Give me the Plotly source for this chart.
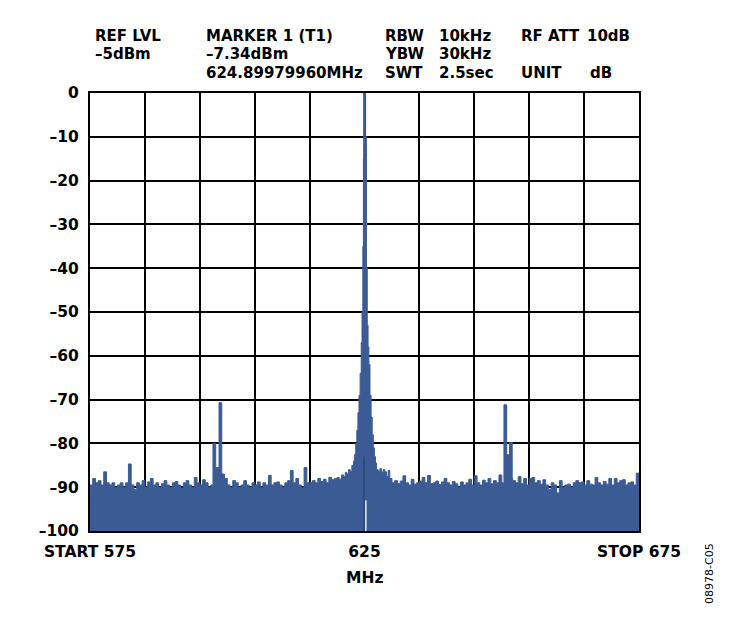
import numpy as np
import plotly.graph_objects as go

# ---------------- data ----------------
# sweep grid (0.5 MHz steps, START 575 .. STOP 675)
f_start, f_stop = 575.0, 675.0
base_levels = [
    # 575.0 - 584.5
    -89.5, -88.0, -89.0, -88.5, -89.5, -86.5, -89.0, -89.5, -89.0, -90.0,
    -89.5, -89.0, -90.0, -89.0, -84.7, -89.5, -90.5, -89.0, -89.5, -88.5,
    # 585.0 - 594.5
    -90.0, -88.8, -88.0, -89.5, -89.0, -90.0, -89.2, -88.5, -89.5, -90.0,
    -89.0, -88.7, -89.5, -90.2, -89.0, -88.5, -89.5, -90.0, -87.8, -89.0,
    # 595.0 - 604.5
    -89.5, -88.3, -89.0, -90.0, -89.5, -89.0, -89.0, -89.0, -89.0, -88.0,
    -89.5, -90.0, -88.5, -89.0, -90.0, -89.5, -88.5, -89.5, -90.0, -89.0,
    # 605.0 - 614.5
    -89.5, -88.8, -90.0, -89.0, -89.5, -87.3, -89.5, -89.0, -88.8, -89.5,
    -90.0, -89.0, -88.5, -86.2, -89.0, -88.0, -89.5, -90.0, -85.5, -89.0,
    # 615.0 - 624.5
    -89.0, -88.5, -89.0, -88.0, -88.7, -88.2, -89.0, -87.8, -88.3, -88.0,
    -88.0, -87.5, -87.0, -86.5, -86.0, -85.0, -84.0, -80.0, -70.0, -50.0,
    # 625.0 - 634.5
    -10.0, -55.0, -75.0, -84.0, -86.0, -86.5, -86.0, -86.5, -87.0, -88.0,
    -89.0, -88.5, -89.2, -88.6, -87.4, -89.0, -89.5, -88.2, -89.3, -89.0,
    # 635.0 - 644.5
    -88.6, -87.8, -89.0, -87.3, -89.2, -89.0, -88.6, -89.4, -88.8, -88.0,
    -89.0, -89.5, -88.7, -89.2, -90.0, -88.8, -89.5, -89.0, -88.2, -89.5,
    # 645.0 - 654.5
    -87.4, -89.0, -89.5, -88.4, -89.0, -88.0, -89.2, -88.5, -89.0, -87.2,
    -89.0, -89.0, -89.0, -89.0, -88.5, -89.0, -87.6, -89.2, -88.0, -89.5,
    # 655.0 - 664.5
    -88.0, -87.8, -89.0, -88.5, -89.3, -88.3, -89.5, -90.5, -89.0, -89.5,
    -91.3, -88.5, -90.0, -89.5, -89.3, -90.0, -89.0, -88.5, -89.0, -88.8,
    # 665.0 - 674.5
    -89.5, -88.5, -89.3, -89.5, -87.8, -89.0, -89.5, -88.7, -89.3, -88.0,
    -89.5, -88.0, -89.0, -88.5, -88.3, -89.5, -89.0, -88.8, -89.5, -86.8,
    # 675.0
    -89.0,
]

# carrier region (finer detail)
carrier_freq = [620.0, 620.4, 620.8, 621.2, 621.5, 621.8, 622.1, 622.4, 622.7, 623.0,
                623.2, 623.4, 623.6, 623.8, 624.0, 624.2, 624.4, 624.55, 624.7, 624.8,
                624.85, 625.2, 625.35, 625.5, 625.65, 625.8, 626.0, 626.2, 626.4, 626.6,
                626.8, 627.0, 627.2, 627.5, 627.8, 628.1, 628.4, 628.7, 629.0, 629.3,
                629.6]
carrier_level = [-87.8, -88.2, -87.2, -87.6, -86.6, -87.0, -86.0, -86.4, -85.0, -84.0,
                 -82.5, -80.0, -77.0, -73.0, -69.0, -64.0, -57.0, -50.0, -35.0, -15.0,
                 0.0, -10.0, -40.0, -53.0, -58.0, -62.0, -69.0, -74.0, -78.0, -81.0,
                 -83.0, -84.5, -86.0, -86.4, -85.8, -86.6, -86.0, -86.5, -87.5, -86.2,
                 -88.0]

# spurs
spur_left_freq = [597.4, 597.9, 598.5, 599.0]
spur_left_level = [-80.0, -85.5, -70.7, -87.0]
spur_right_freq = [650.4, 650.9, 651.4, 651.9]
spur_right_level = [-71.2, -82.6, -79.8, -88.0]

# marker line and display gap
marker_freq = 624.9
marker_level_top = -83.0
gap_freq = 625.25
gap_level_top = -93.0

# axis ticks
y_tickvals = [0, -10, -20, -30, -40, -50, -60, -70, -80, -90, -100]
y_ticktext = ["0", "–10", "–20", "–30", "–40", "–50", "–60", "–70", "–80", "–90", "–100"]
x_tickvals = [575, 585, 595, 605, 615, 625, 635, 645, 655, 665, 675]
x_ticktext = ["START 575", "", "", "", "", "625", "", "", "", "", "STOP 675"]

# ---------------- assemble trace ----------------
base_freq = np.linspace(f_start, f_stop, len(base_levels))
pts = dict(zip(np.round(base_freq, 3), base_levels))
for fr, lv in [(carrier_freq, carrier_level), (spur_left_freq, spur_left_level),
               (spur_right_freq, spur_right_level)]:
    lo, hi = min(fr), max(fr)
    for k in list(pts.keys()):
        if lo - 1e-9 <= k <= hi + 1e-9:
            del pts[k]
    for a, b in zip(fr, lv):
        pts[round(a, 3)] = b
xs = sorted(pts.keys())
ys = [pts[k] for k in xs]

BLUE = "#3B5B95"
FONT = "DejaVu Sans, Verdana, sans-serif"
FS = 15.5
HFS = 15

fig = go.Figure()
fig.add_trace(go.Scatter(x=[f_start, f_stop], y=[-100, -100], mode="lines",
                         line=dict(width=0, color=BLUE), showlegend=False, hoverinfo="skip"))
fig.add_trace(go.Scatter(x=xs, y=ys, mode="lines", line=dict(color=BLUE, width=1, shape="hv"),
                         fill="tonexty", fillcolor=BLUE, showlegend=False))
fig.add_trace(go.Scatter(x=[marker_freq, marker_freq], y=[-100, marker_level_top], mode="lines",
                         line=dict(color="#243a5e", width=1), showlegend=False))
fig.add_trace(go.Scatter(x=[gap_freq, gap_freq], y=[-100, gap_level_top], mode="lines",
                         line=dict(color="white", width=1.3), showlegend=False))

OFF = 8  # page body margin
W, H = 735, 622
PL, PR, PT, PB = 90, 639, 93, 531   # plot area in screen pixels
L = PL - OFF
R = W - (PR - OFF)
T = PT - OFF
B = H - (PB - OFF)
pw, ph = PR - PL, PB - PT


def px_x(p):
    return (p - PL) / pw


def px_y(p):
    return (PB - p) / ph


Y1, Y2, Y3 = 36, 54.5, 72.5
header = [
    ("REF LVL", 93, Y1), ("–5dBm", 93, Y2),
    ("MARKER 1 (T1)", 204, Y1), ("–7.34dBm", 204, Y2), ("624.89979960MHz", 204, Y3),
    ("RBW", 383, Y1), ("10kHz", 437, Y1),
    ("YBW", 383, Y2), ("30kHz", 437, Y2),
    ("SWT", 383, Y3), ("2.5sec", 437, Y3),
    ("RF ATT", 519, Y1), ("10dB", 585, Y1),
    ("UNIT", 519, Y3), ("dB", 588, Y3),
]
annotations = []
for txt, x, y in header:
    annotations.append(dict(text=txt, x=px_x(x), y=px_y(y), xref="paper", yref="paper",
                            xanchor="left", yanchor="middle", showarrow=False,
                            font=dict(size=HFS, color="black", family=FONT, weight="bold")))
annotations.append(dict(text="MHz", x=px_x(364.5), y=px_y(578), xref="paper", yref="paper",
                        xanchor="center", yanchor="middle", showarrow=False,
                        font=dict(size=FS, color="black", family=FONT, weight="bold")))
annotations.append(dict(text="08978-C05", x=px_x(709), y=px_y(574), xref="paper", yref="paper",
                        xanchor="center", yanchor="middle", showarrow=False, textangle=-90,
                        font=dict(size=11, color="black", family=FONT, weight="normal")))

fig.update_layout(
    width=W, height=H,
    margin=dict(l=L, r=R, t=T, b=B),
    paper_bgcolor="white", plot_bgcolor="white",
    font=dict(family=FONT, size=FS, color="black", weight="bold"),
    annotations=annotations,
    showlegend=False,
)
fig.update_xaxes(range=[f_start, f_stop], tickvals=x_tickvals, ticktext=x_ticktext,
                 showgrid=True, gridcolor="black", gridwidth=1.6, zeroline=False,
                 showline=True, linecolor="black", linewidth=2.2, mirror=True,
                 ticks="", ticklabelstandoff=5,
                 tickfont=dict(size=FS, family=FONT, weight="bold"))
fig.update_yaxes(range=[-100, 0], tickvals=y_tickvals, ticktext=y_ticktext,
                 showgrid=True, gridcolor="black", gridwidth=1.6, zeroline=False,
                 showline=True, linecolor="black", linewidth=2.2, mirror=True,
                 ticks="", ticklabelstandoff=6,
                 tickfont=dict(size=FS, family=FONT, weight="bold"))

fig.write_html("out.html")
